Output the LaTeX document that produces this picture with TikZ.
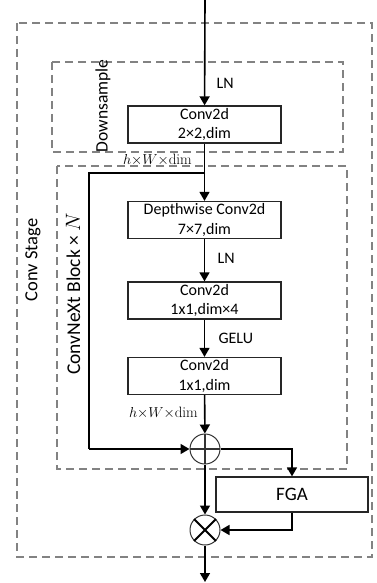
\documentclass[tikz,border=0pt]{standalone}
\usepackage{amsmath}
\usepackage{fontspec}
\setsansfont{Carlito}
\usepackage{tikz}
\usetikzlibrary{arrows.meta,calc}
\definecolor{groupgray}{RGB}{130,130,130}

\begin{document}
\begin{tikzpicture}[
  x=1pt, y=-1pt,
  block/.style={
    draw=black!85, line width=1.3pt,
    minimum width=153pt, minimum height=37pt,
    inner sep=0pt, align=center,
    font=\sffamily\fontsize{16}{19.5}\selectfont
  },
  fgabox/.style={block, minimum width=152pt, minimum height=35pt,
    font=\sffamily\fontsize{19}{22}\selectfont},
  opnode/.style={circle, draw=black!80, line width=1pt,
    minimum size=30pt, inner sep=0pt},
  group/.style={draw=groupgray, line width=1.1pt, dash pattern=on 8pt off 5pt},
  grouplabel/.style={rotate=90, font=\sffamily\fontsize{18.5}{22}\selectfont},
  arrow/.style={-{Triangle[length=9pt,width=10pt]}, line width=1.6pt},
  line/.style={line width=1.6pt},
  note/.style={font=\sffamily\fontsize{16}{18}\selectfont},
  dimnote/.style={font=\fontsize{15}{17}\selectfont, inner sep=1pt}
]
\useasboundingbox (0,0) rectangle (377,583);

% dashed groups
\draw[group] (17,23) rectangle (372,557);
\draw[group] (52,62) rectangle (343,152);
\draw[group] (57,166) rectangle (347,469);
\node[grouplabel] (stagelbl) at (33,260) {Conv Stage};
\node[grouplabel, font=\sffamily\fontsize{17.5}{20}\selectfont] (dslbl) at (103,106) {Downsample};
\node[grouplabel, font=\sffamily\fontsize{19.5}{22}\selectfont] (blocklbl) at (73,294) {ConvNeXt Block × $N$};

% blocks
\node[block] (ds) at (204.5,124.5) {Conv2d\\2×2,dim};
\node[block] (dw) at (204.5,220) {Depthwise Conv2d\\7×7,dim};
\node[block] (pw1) at (204.5,300.5) {Conv2d\\1x1,dim×4};
\node[block] (pw2) at (204.5,376) {Conv2d\\1x1,dim};
\node[fgabox] (fga) at (292,494.5) {FGA};

\node[opnode, path picture={
  \draw[line width=1.8pt] (path picture bounding box.north) -- (path picture bounding box.south)
    (path picture bounding box.west) -- (path picture bounding box.east);}]
  (plus) at (205,449) {};
\node[opnode] (times) at (205,530) {};
\draw[line width=1.8pt] (times.north east) -- (times.south west)
  (times.north west) -- (times.south east);

\coordinate (in) at (205,0);
\coordinate (split) at (205,173);
\coordinate (skip) at (89,449);
\coordinate (out) at (205,582);

% connectors
\draw[arrow] (in) -- (ds);
\draw[arrow] (ds) -- (dw);
\draw[line] (split) -| (skip);
\draw[arrow] (skip) -- (plus);
\draw[arrow] (dw) -- (pw1);
\draw[arrow] (pw1) -- (pw2);
\draw[arrow] (pw2) -- (plus);
\draw[arrow] (plus) -- (times);
\draw[arrow] (plus) -| (fga.north);
\draw[arrow] (fga.south) |- (times);
\draw[arrow] (times) -- (out);

% labels
\node[note, anchor=west] (ln1) at (213,83) {LN};
\node[note, anchor=west] (ln2) at (214,258) {LN};
\node[note, anchor=west] (gelu) at (215,338) {GELU};
\node[dimnote, anchor=east] (dim1) at (193,160) {$h{\times}W{\times}\mathrm{dim}$};
\node[dimnote, anchor=east] (dim2) at (199,413) {$h{\times}W{\times}\mathrm{dim}$};
\end{tikzpicture}
\end{document}
